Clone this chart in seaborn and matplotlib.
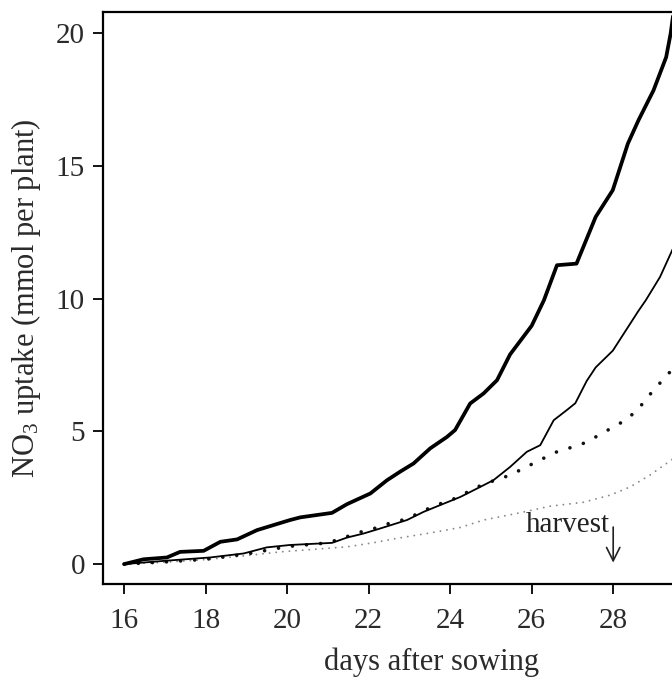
import numpy as np
import pandas as pd
import matplotlib
matplotlib.use("Agg")
import matplotlib.pyplot as plt
import seaborn as sns

# ---- data ----
days_thick = [16.0, 16.47, 17.05, 17.37, 17.95, 18.36, 18.77, 19.26, 19.75, 20.07, 20.32, 21.1,
              21.47, 22.04, 22.45, 22.77, 23.1, 23.51, 23.92, 24.12, 24.49, 24.82, 25.15, 25.47,
              26.0, 26.3, 26.62, 27.1, 27.57, 27.99, 28.36, 28.62, 28.99, 29.3, 29.41, 29.5]
uptake_thick = [0.0, 0.18, 0.25, 0.46, 0.5, 0.84, 0.93, 1.28, 1.51, 1.66, 1.76, 1.93,
                2.26, 2.66, 3.16, 3.48, 3.79, 4.36, 4.79, 5.05, 6.05, 6.43, 6.93, 7.9,
                8.98, 9.94, 11.26, 11.32, 13.08, 14.09, 15.84, 16.72, 17.85, 19.1, 19.99, 21.0]

days_thin = [16.0, 17.05, 18.11, 18.93, 19.5, 20.07, 21.1, 21.47, 21.87, 22.28, 22.94, 23.35,
             23.75, 24.25, 24.74, 25.06, 25.47, 25.88, 26.21, 26.54, 26.86, 27.07, 27.35, 27.57,
             27.99, 28.62, 28.8, 29.15, 29.5]
uptake_thin = [0.0, 0.13, 0.25, 0.4, 0.63, 0.72, 0.8, 1.0, 1.15, 1.34, 1.66, 1.97,
               2.22, 2.53, 2.91, 3.16, 3.66, 4.23, 4.48, 5.42, 5.8, 6.06, 6.9, 7.41,
               8.04, 9.54, 9.94, 10.82, 12.0]

days_dots = [16.0, 17.0, 18.0, 19.0, 20.0, 21.0, 21.83, 22.2, 22.57, 22.94, 23.3, 23.67, 24.04,
             24.8, 25.47, 25.84, 26.21, 26.54, 26.9, 27.27, 27.62, 27.95, 28.3, 28.6, 28.84,
             29.1, 29.36, 29.5]
uptake_dots = [0.0, 0.08, 0.18, 0.38, 0.66, 0.8, 1.22, 1.37, 1.57, 1.7, 1.98, 2.23, 2.42,
               3.0, 3.35, 3.64, 3.92, 4.19, 4.36, 4.55, 4.83, 5.12, 5.42, 5.81, 6.28,
               6.74, 7.18, 7.42]

days_light = [16.0, 17.0, 18.0, 19.0, 19.83, 20.6, 21.47, 22.1, 22.69, 23.5, 24.25, 24.82,
              25.64, 26.45, 27.27, 27.93, 28.42, 28.9, 29.5]
uptake_light = [0.0, 0.07, 0.17, 0.32, 0.46, 0.55, 0.65, 0.8, 0.97, 1.17, 1.38, 1.66,
                1.91, 2.18, 2.33, 2.6, 2.91, 3.35, 4.0]

x_ticks = [16, 18, 20, 22, 24, 26, 28]
y_ticks = [0, 5, 10, 15, 20]
harvest_day = 28

# ---- style ----
sns.set_theme(style="ticks")
plt.rcParams["font.family"] = ["Liberation Serif", "DejaVu Serif"]
plt.rcParams["mathtext.default"] = "regular"

W, H = 672, 686
fig = plt.figure(figsize=(W / 100, H / 100), dpi=100)
left_px, right_px, top_px, bottom_px = 103, 760, 12, 584
ax = fig.add_axes([left_px / W, 1 - bottom_px / H, (right_px - left_px) / W, (bottom_px - top_px) / H])

px_per_day = 40.75
x0 = 15.48
ax.set_xlim(x0, x0 + (right_px - left_px) / px_per_day)
ax.set_ylim(-0.75, 20.8)

df_thick = pd.DataFrame({"day": days_thick, "uptake": uptake_thick})
df_thin = pd.DataFrame({"day": days_thin, "uptake": uptake_thin})
df_dots = pd.DataFrame({"day": days_dots, "uptake": uptake_dots})
df_light = pd.DataFrame({"day": days_light, "uptake": uptake_light})

sns.lineplot(data=df_light, x="day", y="uptake", ax=ax, color="#8a8a8a", lw=1.4,
             linestyle=(0, (0.01, 3.4)), sort=False, dash_capstyle="round")
sns.lineplot(data=df_dots, x="day", y="uptake", ax=ax, color="#111111", lw=2.6,
             linestyle=(0, (0.01, 3.9)), sort=False, dash_capstyle="round")
sns.lineplot(data=df_thin, x="day", y="uptake", ax=ax, color="black", lw=1.3, sort=False,
             solid_joinstyle="round")
sns.lineplot(data=df_thick, x="day", y="uptake", ax=ax, color="black", lw=2.7, sort=False,
             solid_joinstyle="round")

# harvest arrow
ax.annotate("", xy=(harvest_day, -0.05), xytext=(harvest_day, 1.5),
            arrowprops=dict(arrowstyle="->", color="#222222", lw=1.2, mutation_scale=24))
ax.text(harvest_day - 0.08, 1.22, "harvest", ha="right", va="baseline", fontsize=21, color="#222222")

ax.set_xticks(x_ticks)
ax.set_yticks(y_ticks)
ax.tick_params(axis="both", direction="out", length=7, width=1.3, color="black",
               labelsize=21, labelcolor="#2a2a2a")
ax.tick_params(axis="x", pad=10)
ax.tick_params(axis="y", pad=6)

for side in ["left", "top", "bottom"]:
    ax.spines[side].set_visible(True)
    ax.spines[side].set_color("black")
    ax.spines[side].set_linewidth(1.6)
ax.spines["right"].set_visible(False)

ax.set_xlabel("days after sowing", fontsize=22, color="#2a2a2a", labelpad=10)
ax.set_ylabel("NO$_3$ uptake (mmol per plant)", fontsize=22, color="#2a2a2a", labelpad=9)

fig.savefig("out.png", dpi=100)
